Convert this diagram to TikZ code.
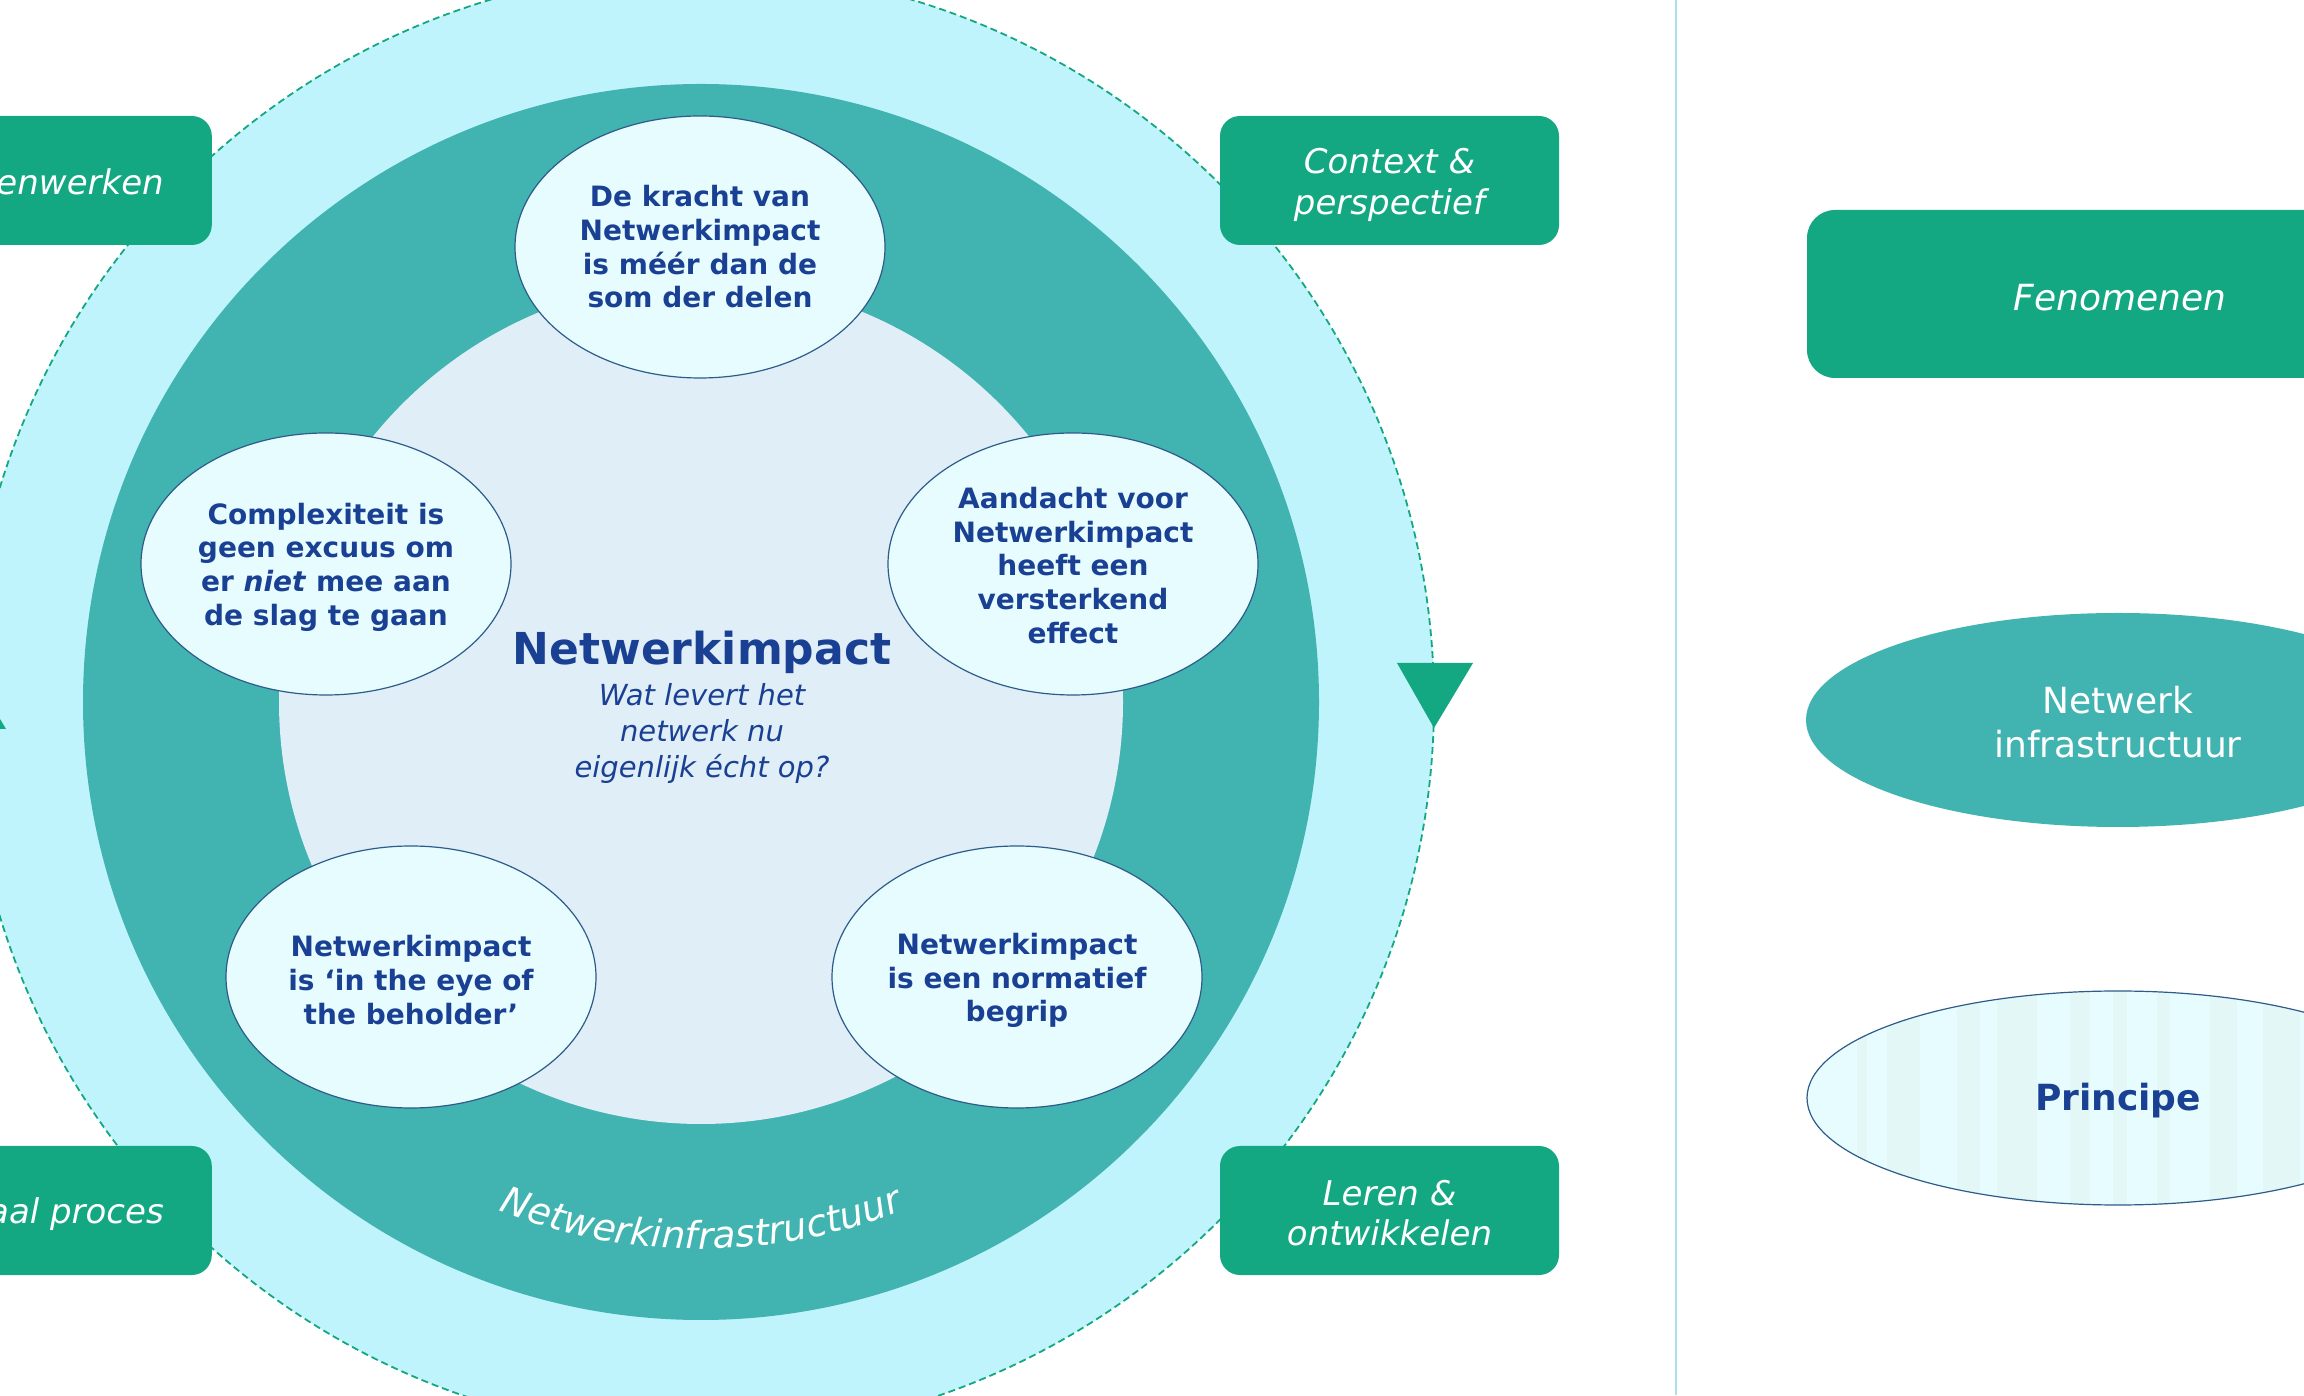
\documentclass[tikz,border=0pt]{standalone}
\usepackage{fontspec}
\setmainfont{DejaVu Sans}
\usetikzlibrary{shapes.geometric,decorations.text}
\definecolor{cyanbg}{HTML}{C0F4FC}
\definecolor{tealring}{HTML}{41B3B0}
\definecolor{innerpale}{HTML}{E0EEF7}
\definecolor{ellfill}{HTML}{E6FCFF}
\definecolor{ellborder}{HTML}{2E5C8A}
\definecolor{textblue}{HTML}{1A4093}
\definecolor{greenbox}{HTML}{13A882}
\definecolor{vline}{HTML}{A9E1EC}
\definecolor{stripe}{HTML}{E3F7F6}
\begin{document}
\begin{tikzpicture}[x=1pt,y=1pt,
  ell/.style={ellipse, draw=ellborder, line width=1.2pt, fill=ellfill,
    minimum width=370pt, minimum height=262pt, inner sep=0pt},
  elltext/.style={align=center, inner sep=0pt, text=textblue,
    font=\bfseries\fontsize{28}{33.7}\selectfont},
  gbox/.style={rectangle, fill=greenbox, draw=none, rounded corners=20pt,
    minimum width=339pt, minimum height=129pt, inner sep=0pt},
  gtext/.style={text=white, font=\itshape\fontsize{34}{40.5}\selectfont, align=center, inner sep=0pt},
  tri/.style={fill=greenbox, draw=none}]
\useasboundingbox (0,0) rectangle (2304,1395);
\clip (0,0) rectangle (2304,1395);
\fill[white] (0,0) rectangle (2304,1395);

% rings
\fill[cyanbg] (701,693) circle[radius=733];
\draw[greenbox, line width=1.8pt, dash pattern=on 7pt off 4pt] (701,693) circle[radius=733];
\fill[tealring] (701,693) circle[radius=618];
\fill[innerpale] (701,693) circle[radius=422];

% curved label
\begin{scope}[shift={(701,693)}]
\path[decorate, decoration={text along path, text align=center, text color=white,
  text={|\itshape\fontsize{37.5}{40}\selectfont|Netwerkinfrastructuur}}]
  (225:547) arc[start angle=225, end angle=315, radius=547];
\end{scope}

% principles
\node[ell] (e1) at (700,1148) {};
\node[elltext] (e1t) at (700,1148) {De kracht van\\Netwerkimpact\\is méér dan de\\som der delen};
\node[ell] (e2) at (326,831) {};
\node[elltext] (e2t) at (326,828) {Complexiteit is\\geen excuus om\\er \textit{niet} mee aan\\de slag te gaan};
\node[ell] (e3) at (1073,831) {};
\node[elltext] (e3t) at (1073,829.5) {Aandacht voor\\Netwerkimpact\\heeft een\\versterkend\\effect};
\node[ell] (e4) at (411,418) {};
\node[elltext] (e4t) at (411,415) {Netwerkimpact\\is ‘in the eye of\\the beholder’};
\node[ell] (e5) at (1017,418) {};
\node[elltext] (e5t) at (1017,414.5) {Netwerkimpact\\is een normatief\\begrip};

% centre
\node[text=textblue, font=\bfseries\fontsize{44}{52}\selectfont, anchor=base] (title) at (702,730) {Netwerkimpact};
\node[text=textblue, font=\itshape\fontsize{29}{36}\selectfont, align=center] (sub) at (702,661.5) {Wat levert het\\netwerk nu\\eigenlijk écht op?};

% green boxes
\node[gbox, anchor=east] (b1) at (212,1214.5) {};
\node[gtext, anchor=east] (b1t) at (164,1213) {enwerken};
\node[gbox] (b2) at (1389.5,1214.5) {};
\node[gtext] (b2t) at (1389.5,1210) {Context \&\\perspectief};
\node[gbox, anchor=east] (b3) at (212,184.5) {};
\node[gtext, anchor=east] (b3t) at (164,180.5) {aal proces};
\node[gbox] (b4) at (1389.5,184.5) {};
\node[gtext] (b4t) at (1389.5,182) {Leren \&\\ontwikkelen};

% triangles
\fill[tri] (1397,732) -- (1473,732) -- (1434,667) -- cycle;
\fill[tri] (-72,666) -- (6,666) -- (-33,731) -- cycle;

% divider
\draw[vline, line width=1.5pt] (1676,0) -- (1676,1395);

% legend
\node[rectangle, fill=greenbox, rounded corners=28pt, minimum width=626pt, minimum height=168pt,
  inner sep=0pt] (fen) at (2120,1101) {};
\node[text=white, inner sep=0pt, font=\itshape\fontsize{36}{42}\selectfont] (fent) at (2120,1097) {Fenomenen};
\node[ellipse, fill=tealring, draw=none, minimum width=624pt, minimum height=214pt, inner sep=0pt] (ni) at (2118,675) {};
\node[align=center, inner sep=0pt, text=white, font=\fontsize{36}{44}\selectfont] (nit) at (2118,673) {Netwerk\\infrastructuur};
\fill[ellfill] (2118,297) ellipse[x radius=311, y radius=107];
\begin{scope}
\clip (2118,297) ellipse[x radius=311, y radius=107];
\foreach \a/\b in {1857/1867,1887/1920,1957/1980,1997/2037,2070/2090,2113/2127,2157/2170,2210/2237,2263/2300}
  \fill[stripe] (\a,150) rectangle (\b,450);
\end{scope}
\node[ellipse, draw=ellborder, line width=1.2pt, minimum width=622pt, minimum height=214pt, inner sep=0pt] (pr) at (2118,297) {};
\node[inner sep=0pt, text=textblue, font=\bfseries\fontsize{36}{42}\selectfont] (prt) at (2118,294) {Principe};
\end{tikzpicture}
\end{document}
